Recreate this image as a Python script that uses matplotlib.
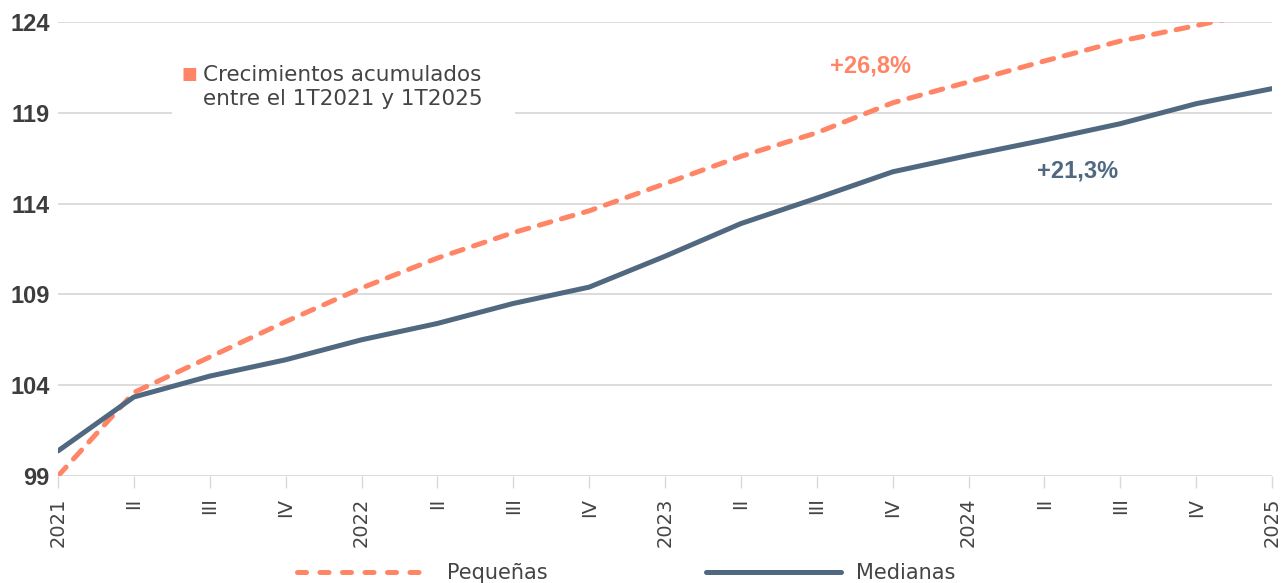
import matplotlib
matplotlib.use("Agg")
import matplotlib.pyplot as plt
from matplotlib.patches import Rectangle
from matplotlib.lines import Line2D

quarters = ["2021", "II", "III", "IV", "2022", "II", "III", "IV", "2023",
            "II", "III", "IV", "2024", "II", "III", "IV", "2025"]
pequenas = [99.0, 103.6, 105.55, 107.5, 109.35, 111.0, 112.4, 113.6, 115.1,
            116.6, 117.9, 119.55, 120.7, 121.85, 122.95, 123.8, 124.7]
medianas = [100.38, 103.35, 104.5, 105.4, 106.5, 107.4, 108.5, 109.4, 111.1,
            112.9, 114.3, 115.75, 116.65, 117.5, 118.4, 119.5, 120.33]
yticks = [99, 104, 109, 114, 119, 124]
note_lines = ["Crecimientos acumulados", "entre el 1T2021 y 1T2025"]
label_peq = "+26,8%"
label_med = "+21,3%"

C_PEQ = "#FF8566"
C_MED = "#506880"
C_TXT = "#444444"
C_GRID = "#D9D9D9"

W, H = 1281, 583
fig = plt.figure(figsize=(W / 100, H / 100), dpi=100)
ax = fig.add_axes([58 / W, 1 - 476 / H, (1272 - 58) / W, (476 - 22) / H])

x = list(range(len(quarters)))
for yv in yticks:
    ax.axhline(yv, color=C_GRID, lw=1.3, zorder=0)

ax.plot(x, pequenas, color=C_PEQ, lw=3.6, dashes=(2.4, 2.2),
        dash_capstyle="round", solid_capstyle="round", zorder=3, label="Pequeñas")
ax.plot(x, medianas, color=C_MED, lw=3.6, solid_capstyle="round",
        zorder=4, label="Medianas")

ax.set_xlim(0, len(quarters) - 1)
ax.set_ylim(99, 124)
for s in ax.spines.values():
    s.set_visible(False)

ax.set_yticks(yticks)
ax.set_yticklabels([str(v) for v in yticks], fontfamily="Liberation Sans",
                   fontweight="bold", fontsize=17, color="#3d3d3d")
ax.tick_params(axis="y", length=0, pad=6)
ax.set_xticks(x)
ax.set_xticklabels(quarters, rotation=90, fontsize=14, color=C_TXT,
                   fontfamily="DejaVu Sans")
ax.tick_params(axis="x", length=8.5, width=1, color=C_GRID, pad=7)

# note box
ax.add_patch(Rectangle((1.50, 118.6), 4.52, 3.6, facecolor="white",
                       edgecolor="none", zorder=1))
ax.text(1.727, 121.14, "■", color=C_PEQ, fontsize=12, ha="center", va="center",
        zorder=5)
ax.text(1.91, 120.42, "\n".join(note_lines), color=C_TXT, fontsize=15.5,
        ha="left", va="center", linespacing=1.2, zorder=5)

ax.text(10.71, 121.58, label_peq, color=C_PEQ, fontsize=17, fontweight="bold",
        fontfamily="Liberation Sans", ha="center", va="center", zorder=5)
ax.text(13.44, 115.8, label_med, color=C_MED, fontsize=17, fontweight="bold",
        fontfamily="Liberation Sans", ha="center", va="center", zorder=5)

handles = [Line2D([], [], color=C_PEQ, lw=3.6, dashes=(1.8, 2.7),
                  dash_capstyle="round"),
           Line2D([], [], color=C_MED, lw=3.6, solid_capstyle="round")]
fig.legend(handles, ["Pequeñas", "Medianas"], loc="center",
           bbox_to_anchor=(626 / W, 1 - 573 / H), ncol=2, frameon=False,
           fontsize=15, handlelength=6.5, handletextpad=0.7, columnspacing=7.6,
           labelcolor=C_TXT, borderpad=0)

fig.savefig("out.png", dpi=100)
